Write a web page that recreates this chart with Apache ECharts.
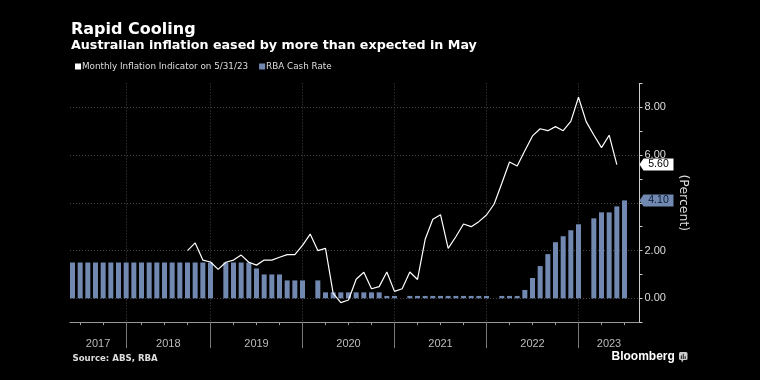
<!DOCTYPE html>
<html>
<head>
<meta charset="utf-8">
<script src="https://cdn.jsdelivr.net/npm/echarts@6/dist/echarts.min.js"></script>
<style>
html,body{margin:0;padding:0;background:#000;}
#chart{width:760px;height:380px;}
</style>
</head>
<body>
<div id="chart"></div>
<script>
// ---- data ----
const cpiMonths = [
  '2018-09','2018-10','2018-11','2018-12',
  '2019-01','2019-02','2019-03','2019-04','2019-05','2019-06','2019-07','2019-08','2019-09','2019-10','2019-11','2019-12',
  '2020-01','2020-02','2020-03','2020-04','2020-05','2020-06','2020-07','2020-08','2020-09','2020-10','2020-11','2020-12',
  '2021-01','2021-02','2021-03','2021-04','2021-05','2021-06','2021-07','2021-08','2021-09','2021-10','2021-11','2021-12',
  '2022-01','2022-02','2022-03','2022-04','2022-05','2022-06','2022-07','2022-08','2022-09','2022-10','2022-11','2022-12',
  '2023-01','2023-02','2023-03','2023-04','2023-05'
];
const cpiValues = [
  2.0, 2.32, 1.6, 1.52,
  1.21, 1.51, 1.6, 1.81, 1.51, 1.39, 1.6, 1.6, 1.72, 1.83, 1.83, 2.22,
  2.69, 2.0, 2.09, 0.21, -0.18, -0.07, 0.8, 1.09, 0.4, 0.49, 1.1, 0.29,
  0.4, 1.1, 0.79, 2.47, 3.31, 3.5, 2.09, 2.58, 3.11, 3.0, 3.21, 3.49,
  3.95, 4.82, 5.71, 5.54, 6.18, 6.8, 7.1, 7.02, 7.19, 7.02, 7.41, 8.42,
  7.4, 6.84, 6.31, 6.83, 5.6
];
const rbaMonths = [
  '2017-06','2017-07','2017-08','2017-09','2017-10','2017-11','2017-12',
  '2018-01','2018-02','2018-03','2018-04','2018-05','2018-06','2018-07','2018-08','2018-09','2018-10','2018-11','2018-12',
  '2019-02','2019-03','2019-04','2019-05','2019-06','2019-07','2019-08','2019-09','2019-10','2019-11','2019-12',
  '2020-02','2020-03','2020-04','2020-05','2020-06','2020-07','2020-08','2020-09','2020-10','2020-11','2020-12',
  '2021-02','2021-03','2021-04','2021-05','2021-06','2021-07','2021-08','2021-09','2021-10','2021-11','2021-12',
  '2022-02','2022-03','2022-04','2022-05','2022-06','2022-07','2022-08','2022-09','2022-10','2022-11','2022-12',
  '2023-02','2023-03','2023-04','2023-05','2023-06'
];
const rbaValues = [
  1.5, 1.5, 1.5, 1.5, 1.5, 1.5, 1.5,
  1.5, 1.5, 1.5, 1.5, 1.5, 1.5, 1.5, 1.5, 1.5, 1.5, 1.5, 1.5,
  1.5, 1.5, 1.5, 1.5, 1.25, 1.0, 1.0, 1.0, 0.75, 0.75, 0.75,
  0.75, 0.25, 0.25, 0.25, 0.25, 0.25, 0.25, 0.25, 0.25, 0.1, 0.1,
  0.1, 0.1, 0.1, 0.1, 0.1, 0.1, 0.1, 0.1, 0.1, 0.1, 0.1,
  0.1, 0.1, 0.1, 0.35, 0.85, 1.35, 1.85, 2.35, 2.6, 2.85, 3.1,
  3.35, 3.6, 3.6, 3.85, 4.1
];
const yearLabels = ['2017','2018','2019','2020','2021','2022','2023'];
const yearBreakMonths = ['2018-01','2018-12','2019-12','2020-12','2021-12','2022-12'];
const quarterTickMonths = [
  '2017-07','2017-10','2018-03','2018-06','2018-09',
  '2019-03','2019-06','2019-09','2020-03','2020-06','2020-09',
  '2021-03','2021-06','2021-09','2022-03','2022-06','2022-09',
  '2023-03','2023-06'
];
const yTickLabels = [0, 2, 4, 6, 8];
const seriesNames = ['Monthly Inflation Indicator on 5/31/23', 'RBA Cash Rate'];

// ---- helpers ----
// month-end position expressed in years
function toX(m) { const p = m.split('-'); return +p[0] + (+p[1]) / 12; }
const X_MIN = 2017.4728, X_MAX = 2023.663;
const breakXs = yearBreakMonths.map(toX);
const edges = [X_MIN].concat(breakXs, [X_MAX]);
const labelXs = yearLabels.map((_, i) => (edges[i] + edges[i + 1]) / 2);
const quarterXs = quarterTickMonths.map(toX);

const cpiData = cpiMonths.map((m, i) => [toX(m), cpiValues[i]]);
const rbaData = rbaMonths.map((m, i) => [toX(m), rbaValues[i]]);
const lastCpi = cpiValues[cpiValues.length - 1];
const lastRba = rbaValues[rbaValues.length - 1];

const BAR = '#7189b1';
const TAG = 'path://M0,6 L4,0 L34,0 L34,12 L4,12 Z';

const chart = echarts.init(document.getElementById('chart'), null, {renderer: 'canvas'});
chart.setOption({
  backgroundColor: '#000',
  animation: false,
  grid: {left: 70, right: 120.5, top: 83.4, bottom: 57.8, containLabel: false},
  legend: {
    left: 75, top: 62, padding: 0, itemGap: 11,
    itemWidth: 6, itemHeight: 6, icon: 'rect',
    textStyle: {color: '#ddd', fontSize: 8.8, fontFamily: 'DejaVu Sans', padding: [0, 0, 0, -4]},
    data: seriesNames
  },
  xAxis: [{
    type: 'value', min: X_MIN, max: X_MAX,
    axisLine: {show: true, onZero: false, lineStyle: {color: '#999', width: 1}},
    axisTick: {show: true, customValues: breakXs, length: 26, lineStyle: {color: '#777'}},
    axisLabel: {
      customValues: labelXs, margin: 16, color: '#bbb', fontSize: 11,
      fontFamily: 'Liberation Sans',
      formatter: function (v) {
        let best = 0;
        labelXs.forEach((x, i) => { if (Math.abs(x - v) < Math.abs(labelXs[best] - v)) best = i; });
        return yearLabels[best];
      }
    },
    splitLine: {show: true, lineStyle: {color: '#444', type: [1, 2]}}
  }, {
    type: 'value', min: X_MIN, max: X_MAX, position: 'bottom',
    axisLine: {show: false, onZero: false},
    axisTick: {show: true, customValues: quarterXs, length: 3, lineStyle: {color: '#999'}},
    axisLabel: {show: false},
    splitLine: {show: false}
  }],
  yAxis: {
    type: 'value', position: 'right', min: -1, max: 9, interval: 1,
    axisLine: {show: true, lineStyle: {color: '#ccc'}},
    axisTick: {show: true, length: 3, lineStyle: {color: '#ccc'}},
    axisLabel: {
      margin: 5, color: '#ddd', fontSize: 11, fontFamily: 'Liberation Sans',
      formatter: v => yTickLabels.indexOf(v) >= 0 ? v.toFixed(2) : ''
    },
    splitLine: {show: true, lineStyle: {color: ['rgba(0,0,0,0)', '#444'], type: [1, 2]}},
    name: '(Percent)', nameLocation: 'middle', nameRotate: -90, nameGap: 32,
    nameTextStyle: {color: '#ddd', fontSize: 12.5, fontFamily: 'DejaVu Sans'}
  },
  series: [{
    name: seriesNames[1], type: 'bar', data: rbaData, barWidth: 5,
    itemStyle: {color: BAR}, z: 2,
    markPoint: {
      symbol: TAG, symbolSize: [34, 12], symbolOffset: ['50%', 0], symbolKeepAspect: false,
      itemStyle: {color: BAR},
      label: {show: true, position: 'inside', offset: [2, 0], color: '#0b1a33', fontSize: 10.5,
        fontFamily: 'Liberation Sans', formatter: p => p.value.toFixed(2)},
      data: [{coord: [X_MAX, lastRba], value: lastRba}]
    }
  }, {
    name: seriesNames[0], type: 'line', data: cpiData, symbol: 'none',
    lineStyle: {color: '#fff', width: 1.2}, itemStyle: {color: '#fff'}, z: 3,
    markPoint: {
      symbol: TAG, symbolSize: [34, 12], symbolOffset: ['50%', 0], symbolKeepAspect: false,
      itemStyle: {color: '#fff'},
      label: {show: true, position: 'inside', offset: [2, 0], color: '#000', fontSize: 10.5,
        fontFamily: 'Liberation Sans', formatter: p => p.value.toFixed(2)},
      data: [{coord: [X_MAX, lastCpi], value: lastCpi}]
    }
  }],
  graphic: [
    {type: 'text', style: {x: 71, y: 29.5, text: 'Rapid Cooling', fill: '#fff',
      font: 'bold 16px "DejaVu Sans"', verticalAlign: 'middle'}},
    {type: 'text', style: {x: 71, y: 45.2, text: 'Australian inflation eased by more than expected in May', fill: '#fff',
      font: 'bold 12.7px "DejaVu Sans"', verticalAlign: 'middle'}},
    {type: 'text', style: {x: 72.5, y: 358.5, text: 'Source: ABS, RBA', fill: '#ddd',
      font: 'bold 8.6px "DejaVu Sans"', verticalAlign: 'middle'}},
    {type: 'text', style: {x: 611.5, y: 357, text: 'Bloomberg', fill: '#fff',
      font: 'bold 12px "Liberation Sans"', verticalAlign: 'middle'}},
    {type: 'rect', shape: {x: 679, y: 352, width: 8.5, height: 8, r: 1.5}, style: {fill: '#ccc'}},
    {type: 'polygon', shape: {points: [[681, 359], [684, 359], [682, 362.5]]}, style: {fill: '#ccc'}},
    {type: 'rect', shape: {x: 680.8, y: 355.5, width: 1.2, height: 3.5}, style: {fill: '#333'}},
    {type: 'rect', shape: {x: 682.7, y: 353.8, width: 1.2, height: 5.2}, style: {fill: '#333'}},
    {type: 'rect', shape: {x: 684.6, y: 356.3, width: 1.2, height: 2.7}, style: {fill: '#333'}}
  ]
});
</script>
</body>
</html>
